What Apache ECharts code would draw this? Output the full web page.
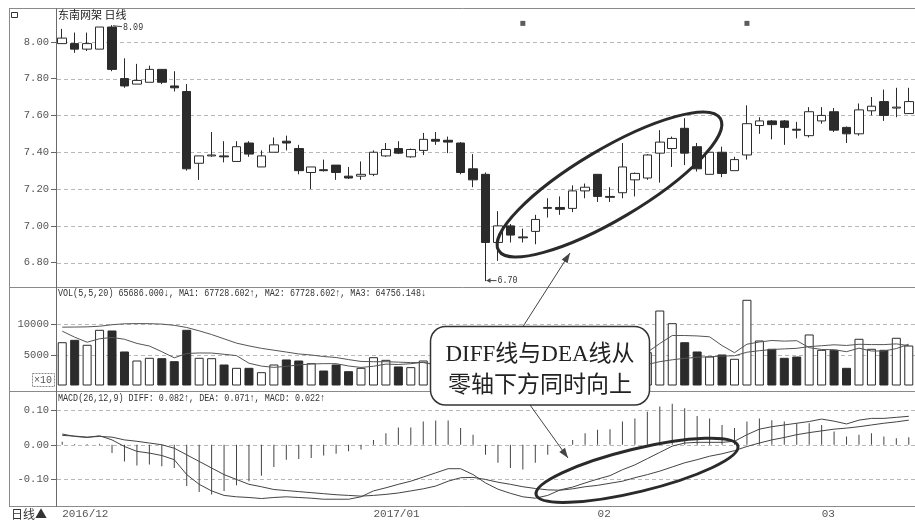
<!DOCTYPE html>
<html>
<head>
<meta charset="utf-8">
<script src="https://cdn.jsdelivr.net/npm/echarts@6/dist/echarts.min.js"></script>
<style>
html,body{margin:0;padding:0;background:#ffffff;}
#c{width:915px;height:520px;}
</style>
</head>
<body>
<div id="c"></div>
<script>
// ---------------- data ----------------
const dates = [
 '2016-11-28','2016-11-29','2016-11-30',
 '2016-12-01','2016-12-02','2016-12-05','2016-12-06','2016-12-07','2016-12-08','2016-12-09',
 '2016-12-12','2016-12-13','2016-12-14','2016-12-15','2016-12-16','2016-12-19','2016-12-20',
 '2016-12-21','2016-12-22','2016-12-23','2016-12-26','2016-12-27','2016-12-28','2016-12-29','2016-12-30',
 '2017-01-03','2017-01-04','2017-01-05','2017-01-06','2017-01-09','2017-01-10','2017-01-11',
 '2017-01-12','2017-01-13','2017-01-16','2017-01-17','2017-01-18','2017-01-19','2017-01-20',
 '2017-01-23','2017-01-24','2017-01-25','2017-01-26',
 '2017-02-03','2017-02-06','2017-02-07','2017-02-08','2017-02-09','2017-02-10','2017-02-13',
 '2017-02-14','2017-02-15','2017-02-16','2017-02-17','2017-02-20','2017-02-21','2017-02-22',
 '2017-02-23','2017-02-24','2017-02-27','2017-02-28',
 '2017-03-01','2017-03-02','2017-03-03','2017-03-06','2017-03-07','2017-03-08','2017-03-09','2017-03-10'
];
const openP = [
 7.99,7.99,7.96,7.96,8.08,7.80,7.77,7.78,7.85,7.76,
 7.73,7.34,7.38,7.38,7.35,7.45,7.32,7.40,7.46,7.42,
 7.29,7.305,7.33,7.27,7.27,7.28,7.38,7.42,7.375,7.41,
 7.47,7.465,7.45,7.31,7.28,6.91,7.00,6.94,6.97,7.095,
 7.10,7.095,7.19,7.28,7.16,7.18,7.25,7.26,7.395,7.42,
 7.53,7.43,7.28,7.40,7.30,7.385,7.545,7.57,7.57,7.525,
 7.49,7.57,7.62,7.535,7.50,7.625,7.675,7.64,7.61
];
const closeP = [
 8.02,7.96,7.99,8.08,7.85,7.76,7.79,7.85,7.78,7.75,
 7.31,7.38,7.385,7.375,7.43,7.39,7.38,7.44,7.45,7.30,
 7.32,7.30,7.29,7.26,7.28,7.40,7.415,7.395,7.415,7.47,
 7.46,7.455,7.29,7.25,6.91,7.00,6.95,6.935,7.035,7.10,
 7.09,7.19,7.21,7.16,7.155,7.32,7.285,7.385,7.455,7.475,
 7.395,7.31,7.40,7.285,7.36,7.555,7.57,7.55,7.535,7.52,
 7.62,7.60,7.52,7.50,7.63,7.65,7.60,7.645,7.675
];
const highP = [
 8.07,8.05,8.05,8.08,8.09,7.91,7.88,7.87,7.85,7.84,
 7.77,7.38,7.51,7.46,7.46,7.46,7.41,7.48,7.49,7.44,
 7.32,7.36,7.33,7.32,7.35,7.41,7.45,7.46,7.42,7.505,
 7.51,7.485,7.455,7.39,7.29,7.08,7.01,6.985,7.06,7.15,
 7.16,7.22,7.23,7.28,7.21,7.45,7.29,7.39,7.52,7.485,
 7.585,7.45,7.40,7.43,7.375,7.655,7.59,7.575,7.575,7.565,
 7.645,7.645,7.64,7.54,7.665,7.70,7.74,7.75,7.75
];
const lowP = [
 7.99,7.94,7.95,7.96,7.84,7.75,7.77,7.78,7.77,7.73,
 7.30,7.25,7.375,7.345,7.35,7.375,7.32,7.40,7.41,7.28,
 7.20,7.295,7.25,7.255,7.25,7.27,7.375,7.39,7.37,7.385,
 7.44,7.395,7.28,7.21,6.70,6.81,6.91,6.91,6.90,7.045,
 7.06,7.075,7.15,7.13,7.13,7.15,7.16,7.25,7.235,7.32,
 7.33,7.295,7.28,7.265,7.30,7.36,7.50,7.47,7.44,7.475,
 7.48,7.555,7.51,7.45,7.49,7.60,7.57,7.59,7.61
];
const volume = [
 7050,7440,6630,9070,8960,5540,4070,4510,4450,3960,
 9070,4510,4450,3420,2880,2880,2170,3420,4240,4070,
 3630,2440,3420,2330,2880,4610,4180,3100,2990,4070,
 2300,2100,3000,2800,3500,2300,2400,2100,2500,2900,
 2600,3100,2700,5110,3650,7050,5870,5420,12210,10150,
 7050,5540,4720,5050,4350,13960,7330,5980,4510,4720,
 8310,5810,5810,2880,7610,5980,5810,7770,6510
];
const volMA5 = [
 8850,7870,7050,7610,7830,7528,6854,6430,5506,4506,
 5212,5300,5288,5082,4866,3628,3160,2954,3118,3356,
 3506,3560,3560,3178,2940,3136,3484,3420,3552,3790,
 3328,2912,2892,2854,2740,2740,2800,2620,2560,2440,
 2500,2640,2760,3282,3432,4322,4876,5420,6840,8140,
 8140,8074,7934,6502,5342,6724,7082,7334,7226,7300,
 6170,5866,5832,5506,6084,5618,5618,6010,6736
];
const volMA20 = [
 9500,9520,9550,9650,9900,10050,10080,10070,10000,9800,
 9450,8900,8300,7600,6900,6450,6050,5750,5450,5140,
 4969,4719,4558,4221,3917,3871,3876,3806,3733,3738,
 3400,3279,3207,3176,3207,3178,3189,3123,3036,2978,
 2926,2959,2923,3062,3101,3223,3307,3423,3884,4188,
 4426,4598,4684,4796,4839,5422,5668,5862,5963,6054,
 6339,6475,6630,6519,6717,6663,6660,6778,6493
];
const diffLine = [
 0.031,0.024,0.021,0.026,0.014,-0.005,-0.019,-0.024,-0.031,-0.043,
 -0.086,-0.114,-0.133,-0.146,-0.150,-0.152,-0.155,-0.152,-0.150,-0.152,
 -0.154,-0.157,-0.157,-0.157,-0.150,-0.133,-0.124,-0.114,-0.105,-0.093,
 -0.081,-0.069,-0.069,-0.086,-0.110,-0.128,-0.140,-0.150,-0.154,-0.146,
 -0.130,-0.122,-0.110,-0.099,-0.089,-0.072,-0.058,-0.040,-0.022,-0.004,
 0.005,0.007,0.007,0.007,0.010,0.029,0.045,0.052,0.057,0.062,
 0.067,0.074,0.068,0.060,0.071,0.076,0.076,0.079,0.082
];
const deaLine = [
 0.027,0.025,0.022,0.024,0.022,0.014,0.010,0.005,0.000,-0.010,
 -0.029,-0.048,-0.067,-0.086,-0.100,-0.114,-0.121,-0.129,-0.132,-0.135,
 -0.138,-0.141,-0.144,-0.146,-0.148,-0.146,-0.143,-0.139,-0.133,-0.127,
 -0.119,-0.105,-0.095,-0.094,-0.100,-0.108,-0.114,-0.121,-0.126,-0.130,
 -0.131,-0.127,-0.121,-0.117,-0.111,-0.105,-0.095,-0.086,-0.076,-0.064,
 -0.052,-0.043,-0.033,-0.026,-0.017,-0.005,0.005,0.014,0.021,0.029,
 0.035,0.040,0.045,0.048,0.052,0.057,0.062,0.066,0.071
];
const macdBar = [
 0.009,0.002,0.002,0.003,-0.024,-0.048,-0.060,-0.057,-0.062,-0.067,
 -0.119,-0.136,-0.143,-0.133,-0.117,-0.105,-0.089,-0.064,-0.043,-0.041,
 -0.038,-0.031,-0.026,-0.019,-0.014,0.014,0.033,0.050,0.050,0.067,
 0.070,0.070,0.048,0.029,-0.029,-0.052,-0.067,-0.071,-0.052,-0.029,
 0.002,0.014,0.033,0.043,0.045,0.067,0.076,0.095,0.110,0.118,
 0.105,0.083,0.076,0.057,0.048,0.067,0.076,0.071,0.067,0.062,
 0.062,0.057,0.038,0.024,0.029,0.033,0.024,0.019,0.022
];
const priceTicks = [6.8, 7.0, 7.2, 7.4, 7.6, 7.8, 8.0];
const volTicks = [5000, 10000];
const macdTicks = [-0.1, 0, 0.1];
const monthLabels = {'2016-11-28':'2016/12','2017-01-03':'2017/01','2017-02-03':'02','2017-03-01':'03'};
const eventDates = ['2017-01-19','2017-02-21'];
const eventLevel = [8.10, 8.10];
const highMark = {date:'2016-12-02', value:8.09, text:'8.09'};
const lowMark = {date:'2017-01-16', value:6.70, text:'6.70'};
const volHeader = 'VOL(5,5,20) 65686.000\u2193, MA1: 67728.602\u2191, MA2: 67728.602\u2191, MA3: 64756.148\u2193';
const macdHeader = 'MACD(26,12,9) DIFF: 0.082\u2191, DEA: 0.071\u2191, MACD: 0.022\u2191';
const titleText = '东南网架 日线';
const noteLines = ['DIFF线与DEA线从', '零轴下方同时向上'];

// ---------------- chart ----------------
const INK = '#2b2b2b';
const MONO = '"Liberation Mono","DejaVu Sans Mono",monospace';
const GL = 56, GW = 861;

function yAx(gridIndex, min, max, ticks, fmt) {
  return {
    type: 'value', gridIndex, min, max, scale: false,
    axisLine: {show: false}, splitLine: {show: false},
    axisTick: {show: true, customValues: ticks, length: 5, lineStyle: {color: '#666'}},
    axisLabel: {show: true, customValues: ticks, formatter: fmt, margin: 7,
      color: '#555', fontFamily: MONO, fontSize: 10.5}
  };
}
function xAx(gridIndex, showLabel) {
  return {
    type: 'category', gridIndex, data: dates, boundaryGap: true,
    axisLine: {show: false}, axisTick: {show: false}, splitLine: {show: false},
    axisLabel: showLabel ? {
      show: true, interval: 0, align: 'left', margin: 3,
      formatter: v => monthLabels[v] || '', color: '#555', fontFamily: MONO, fontSize: 11
    } : {show: false}
  };
}

const candleData = dates.map((d, i) => [openP[i], closeP[i], lowP[i], highP[i]]);
const volData = volume.map((v, i) => {
  const up = closeP[i] >= openP[i];
  return {value: v, itemStyle: up ? {color: '#ffffff', borderColor: INK, borderWidth: 1}
                                  : {color: INK, borderColor: INK, borderWidth: 1}};
});

const option = {
  animation: false,
  backgroundColor: '#ffffff',
  grid: [
    {left: GL, width: GW, top: 9, height: 278},
    {left: GL, width: GW, top: 287, height: 104.5},
    {left: GL, width: GW, top: 391.5, height: 115}
  ],
  xAxis: [xAx(0, false), xAx(1, false), xAx(2, true)],
  yAxis: [
    yAx(0, 6.668, 8.178, priceTicks, v => v.toFixed(2)),
    yAx(1, -977, 16042, volTicks, v => String(Math.round(v))),
    yAx(2, -0.1765, 0.1535, macdTicks, v => v.toFixed(2))
  ],
  series: [
    {type: 'candlestick', xAxisIndex: 0, yAxisIndex: 0, data: candleData, barWidth: 9,
     itemStyle: {color: '#ffffff', color0: INK, borderColor: INK, borderColor0: INK, borderWidth: 1}},
    {type: 'scatter', xAxisIndex: 0, yAxisIndex: 0, symbol: 'rect', symbolSize: 5,
     data: eventDates.map((d, i) => [d, eventLevel[i]]), itemStyle: {color: '#333'}},
    {type: 'bar', xAxisIndex: 1, yAxisIndex: 1, data: volData, barWidth: 9},
    {type: 'line', xAxisIndex: 1, yAxisIndex: 1, data: volMA5, symbol: 'none',
     lineStyle: {color: '#555', width: 1}},
    {type: 'line', xAxisIndex: 1, yAxisIndex: 1, data: volMA20, symbol: 'none',
     lineStyle: {color: '#555', width: 1}},
    {type: 'bar', xAxisIndex: 2, yAxisIndex: 2, data: macdBar, barWidth: 1,
     itemStyle: {color: '#444'}},
    {type: 'line', xAxisIndex: 2, yAxisIndex: 2, data: diffLine, symbol: 'none',
     lineStyle: {color: '#444', width: 1}},
    {type: 'line', xAxisIndex: 2, yAxisIndex: 2, data: deaLine, symbol: 'none',
     lineStyle: {color: '#444', width: 1}}
  ]
};

const chart = echarts.init(document.getElementById('c'));
chart.setOption(option);

// ---------------- graphics ----------------
const G = [];
const yPix = (ax, v) => chart.convertToPixel({yAxisIndex: ax}, v);
const ptPix = (d, v) => chart.convertToPixel({xAxisIndex: 0, yAxisIndex: 0}, [d, v]);
function hline(y, x1, x2, stroke, dash, z) {
  G.push({type: 'line', z: z, silent: true, shape: {x1: x1, y1: y, x2: x2, y2: y},
    style: {stroke: stroke, lineWidth: 1, lineDash: dash || null}});
}
function vline(x, y1, y2, stroke, dash, z) {
  G.push({type: 'line', z: z, silent: true, shape: {x1: x, y1: y1, x2: x, y2: y2},
    style: {stroke: stroke, lineWidth: 1, lineDash: dash || null}});
}
function text(x, y, str, font, opts) {
  opts = opts || {};
  G.push(Object.assign({type: 'text', z: 100, silent: true, x: x, y: y,
    style: {text: str, fill: opts.fill || '#2b2b2b', font: font,
      align: opts.align || 'left', textAlign: opts.align || 'left',
      verticalAlign: 'middle', textVerticalAlign: 'middle'}}, opts.extra || {}));
}
function arrow(x1, y1, x2, y2) {
  G.push({type: 'line', z: 100, silent: true, shape: {x1, y1, x2, y2},
    style: {stroke: '#444', lineWidth: 1}});
  const dx = x2 - x1, dy = y2 - y1, L = Math.sqrt(dx * dx + dy * dy);
  const ux = dx / L, uy = dy / L, px = -uy, py = ux;
  const bx = x2 - 10 * ux, by = y2 - 10 * uy;
  G.push({type: 'polygon', z: 100, silent: true,
    shape: {points: [[x2, y2], [bx + 3.5 * px, by + 3.5 * py], [bx - 3.5 * px, by - 3.5 * py]]},
    style: {fill: '#444'}});
}

// dashed grid lines from tick values
[[0, priceTicks], [1, volTicks], [2, macdTicks]].forEach(function (p) {
  p[1].forEach(function (v) {
    const y = Math.round(yPix(p[0], v)) + 0.5;
    hline(y, GL + 1, 917, '#b8b8b8', [4, 3], 0);
  });
});

// frames
hline(8.5, 9, 917, '#8a8a8a', null, 50);
hline(287.5, 9, 917, '#8a8a8a', null, 50);
hline(391.5, 9, 917, '#8a8a8a', null, 50);
hline(506.5, 9, 917, '#8a8a8a', null, 50);
vline(9.5, 8.5, 506.5, '#8a8a8a', null, 50);
vline(56.5, 8.5, 506.5, '#6a6a6a', null, 50);

// small decorations in the left margin
G.push({type: 'rect', z: 100, silent: true, shape: {x: 11.5, y: 12.5, width: 6, height: 5},
  style: {fill: 'none', stroke: '#333', lineWidth: 1}});
G.push({type: 'rect', z: 100, silent: true, shape: {x: 32.5, y: 373.5, width: 22, height: 13},
  style: {fill: '#fff', stroke: '#888', lineWidth: 1, lineDash: [2, 1]}});
text(34, 380.5, '×10', '10px ' + MONO, {fill: '#555'});
text(11, 514, '日线▲', '12px "Noto Sans CJK SC"', {fill: '#333'});

// titles / headers
text(58, 15, titleText, '11px "Noto Sans CJK SC"', {fill: '#222'});
text(58, 293, volHeader, '10.5px ' + MONO, {fill: '#333', extra: {scaleX: 0.8}});
text(58, 398, macdHeader, '10.5px ' + MONO, {fill: '#333', extra: {scaleX: 0.8}});

// high / low markers
const hp = ptPix(highMark.date, highMark.value);
G.push({type: 'line', z: 100, silent: true,
  shape: {x1: hp[0] + 1, y1: hp[1] + 0.5, x2: hp[0] + 10, y2: hp[1] + 1.5}, style: {stroke: '#444', lineWidth: 1}});
text(hp[0] + 11, hp[1] + 2, highMark.text, '10.5px ' + MONO, {fill: '#333', extra: {scaleX: 0.8}});
const lp = ptPix(lowMark.date, lowMark.value);
G.push({type: 'line', z: 100, silent: true,
  shape: {x1: lp[0] + 1, y1: lp[1] - 0.5, x2: lp[0] + 11, y2: lp[1] - 0.5}, style: {stroke: '#444', lineWidth: 1}});
G.push({type: 'polygon', z: 100, silent: true,
  shape: {points: [[lp[0] + 1, lp[1] - 0.5], [lp[0] + 5, lp[1] - 3], [lp[0] + 5, lp[1] + 2]]}, style: {fill: '#444'}});
text(lp[0] + 12, lp[1] - 0.5, lowMark.text, '10.5px ' + MONO, {fill: '#333', extra: {scaleX: 0.8}});

// ellipses
G.push({type: 'ellipse', z: 100, silent: true, x: 609.5, y: 184.5, rotation: 30.7 * Math.PI / 180,
  shape: {cx: 0, cy: 0, rx: 129, ry: 35}, style: {fill: 'none', stroke: '#2a2a2a', lineWidth: 3}});
G.push({type: 'ellipse', z: 100, silent: true, x: 637, y: 470.3, rotation: 13.6 * Math.PI / 180,
  shape: {cx: 0, cy: 0, rx: 103.8, ry: 21.4}, style: {fill: 'none', stroke: '#2a2a2a', lineWidth: 3}});

// callout
arrow(523, 326.5, 570, 253);
arrow(530, 405, 568, 458);
G.push({type: 'rect', z: 101, silent: true, shape: {x: 430.5, y: 326.5, width: 219, height: 78.5, r: 15},
  style: {fill: '#ffffff', stroke: '#333', lineWidth: 1.5}});
G.push({type: 'text', z: 102, silent: true, x: 540, y: 355,
  style: {text: noteLines[0], fill: '#222', font: '23px "Liberation Serif","Noto Sans CJK SC",serif',
    align: 'center', textAlign: 'center', verticalAlign: 'middle', textVerticalAlign: 'middle'}});
G.push({type: 'text', z: 102, silent: true, x: 540, y: 383,
  style: {text: noteLines[1], fill: '#222', font: '23px "Noto Sans CJK SC",serif',
    align: 'center', textAlign: 'center', verticalAlign: 'middle', textVerticalAlign: 'middle'}});

chart.setOption({graphic: {elements: G}});
</script>
</body>
</html>
